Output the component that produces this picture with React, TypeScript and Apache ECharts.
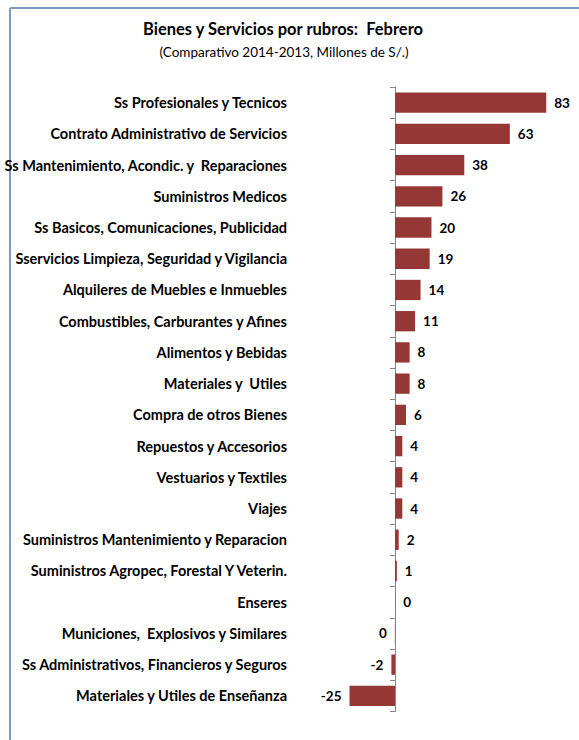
import React, { useEffect, useRef } from "react";
import * as echarts from "echarts";

const categories = [
  "Ss Profesionales y Tecnicos",
  "Contrato Administrativo de Servicios",
  "Ss Mantenimiento, Acondic. y  Reparaciones",
  "Suministros Medicos",
  "Ss Basicos, Comunicaciones, Publicidad",
  "Sservicios Limpieza, Seguridad y Vigilancia",
  "Alquileres de Muebles e Inmuebles",
  "Combustibles, Carburantes y Afines",
  "Alimentos y Bebidas",
  "Materiales y  Utiles",
  "Compra de otros Bienes",
  "Repuestos y Accesorios",
  "Vestuarios y Textiles",
  "Viajes",
  "Suministros Mantenimiento y Reparacion",
  "Suministros Agropec, Forestal Y Veterin.",
  "Enseres",
  "Municiones,  Explosivos y Similares",
  "Ss Administrativos, Financieros y Seguros",
  "Materiales y Utiles de Enseñanza",
];

const values = [83, 63, 38, 26, 20, 19, 14, 11, 8, 8, 6, 4, 4, 4, 2, 1, 0.1, -0.1, -2, -25];

const titleText = "Bienes y Servicios por rubros:  Febrero";
const subtitleText = "(Comparativo 2014-2013, Millones de S/.)";

const FONT = "Lato, 'Noto Sans', sans-serif";

export default function App() {
  const ref = useRef<HTMLDivElement>(null);
  useEffect(() => {
    if (!ref.current) return;
    const chart = echarts.init(ref.current, null, { renderer: "svg" });
    chart.setOption({
      animation: false,
      backgroundColor: "#ffffff",
      title: [
        {
          text: titleText,
          left: 278,
          top: 15,
          textAlign: "center",
          textStyle: { fontFamily: FONT, fontWeight: "bold", fontSize: 16.5, color: "#000" },
        },
        {
          text: subtitleText,
          left: 279,
          top: 40,
          textAlign: "center",
          textStyle: { fontFamily: FONT, fontWeight: "normal", fontSize: 13.5, color: "#000" },
        },
      ],
      graphic: [
        { type: "line", shape: { x1: 10, y1: 8, x2: 579, y2: 8 }, style: { stroke: "#7f9bc2", lineWidth: 2 } },
        { type: "line", shape: { x1: 10, y1: 8, x2: 10, y2: 740 }, style: { stroke: "#7f9bc2", lineWidth: 2 } },
      ],
      grid: { left: 349.5, width: 209.5, top: 87, height: 624.5 },
      xAxis: {
        type: "value",
        min: -25,
        max: 90,
        show: false,
      },
      yAxis: {
        type: "category",
        inverse: true,
        data: categories,
        axisLine: { show: true, onZero: true, lineStyle: { color: "#868686", width: 1 } },
        axisTick: { show: true, length: 5, inside: false, lineStyle: { color: "#868686" } },
        axisLabel: {
          margin: 62.5,
          fontFamily: FONT,
          fontWeight: "bold",
          fontSize: 14.5,
          color: "#000",
        },
      },
      series: [
        {
          type: "bar",
          barCategoryGap: "35%",
          itemStyle: { color: "#953735" },
          data: values.map((v) => ({
            value: v,
            label: { position: v < 0 ? "left" : "right" },
          })),
          label: {
            show: true,
            distance: 8,
            fontFamily: FONT,
            fontWeight: "bold",
            fontSize: 13.5,
            color: "#000",
            formatter: (p: any) => Math.round(p.value).toFixed(0),
          },
        },
      ],
    });
    return () => chart.dispose();
  }, []);
  return (
    <div
      ref={ref}
      style={{ position: "fixed", left: 0, top: 0, width: 579, height: 740 }}
    />
  );
}
